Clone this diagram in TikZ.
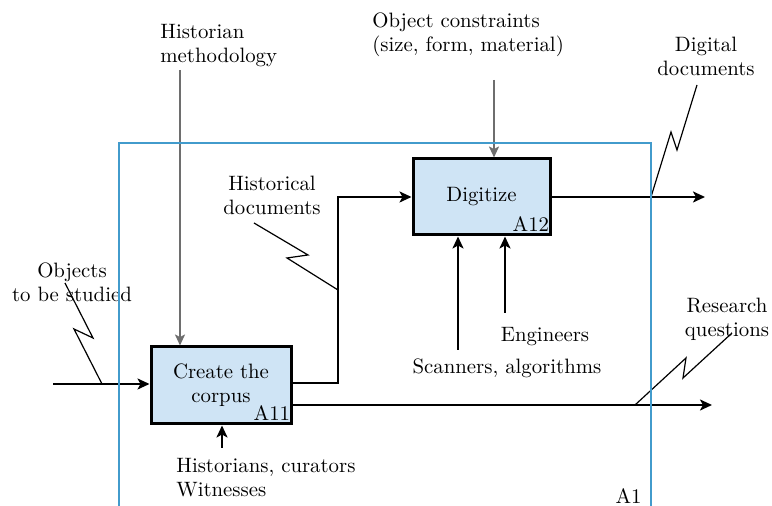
\documentclass[tikz,border=0pt]{standalone}
\usepackage{tikz}
\usetikzlibrary{arrows.meta}

\definecolor{frameblue}{RGB}{66,155,204}
\definecolor{boxblue}{RGB}{207,228,245}
\definecolor{ctlgray}{RGB}{110,110,110}

\begin{document}
\begin{tikzpicture}[x=0.5pt, y=-0.5pt, font=\fontsize{10.4}{12}\selectfont,
	act/.style={draw, line width=1.5pt, fill=boxblue, align=center, inner sep=0pt},
	flow/.style={line width=1.3pt, -{Stealth[length=6pt, width=5.5pt, inset=1.5pt]}},
	ctl/.style={line width=1.1pt, ctlgray, -{Stealth[length=5.5pt, width=5pt, inset=1.3pt]}},
	zig/.style={line width=0.6pt},
	lbl/.style={align=left, inner sep=0pt},
	tag/.style={inner xsep=1pt, inner ysep=2.5pt}]

	\useasboundingbox (0,0) rectangle (772,506);

	\node[act, minimum width=70pt, minimum height=38.5pt] (corpus) at (221,385.5) {Create the\\corpus};
	\node[act, minimum width=68.5pt, minimum height=38pt] (digit) at (481.5,197) {Digitize};
	\node[tag, anchor=south east] (a11) at (corpus.south east) {A11};
	\node[tag, anchor=south east] (a12) at (digit.south east) {A12};

	\node[lbl, anchor=north west] (method) at (160,24) {Historian\\methodology};
	\node[lbl, anchor=north west] (constr) at (372,12) {Object constraints\\(size, form, material)};
	\node[lbl, align=center, anchor=north] (digdoc) at (706,37) {Digital\\documents};
	\node[lbl, align=center, anchor=north] (histdoc) at (272,176) {Historical\\documents};
	\node[lbl, align=center, anchor=north] (objects) at (72,262) {Objects\\to be studied};
	\node[lbl, align=center, anchor=north] (research) at (727,298) {Research\\questions};
	\node[lbl, anchor=north] (engin) at (545,327) {Engineers};
	\node[lbl, anchor=north] (scan) at (507,358) {Scanners, algorithms};
	\node[lbl, anchor=north west] (people) at (176,458) {Historians, curators\\Witnesses};
	\node[lbl, anchor=north east] (a1) at (642,488) {A1};

	\coordinate (in1) at (53,384);
	\coordinate (bend) at (338,383);
	\coordinate (out1) at (712,405);
	\coordinate (out2) at (705,197);
	\coordinate (ctl1) at (180,70);
	\coordinate (ctl2) at (494,80);
	\coordinate (mech1) at (458,350);
	\coordinate (mech2) at (505,313);
	\coordinate (mech3) at (222,448);

	\draw[flow] (in1) -- (in1 -| corpus.west);
	\draw[flow] (corpus.east |- bend) -- (bend) |- (digit.west);
	\draw[flow] (corpus.east |- out1) -- (out1);
	\draw[flow] (digit.east) -- (out2);
	\draw[ctl] (ctl1) -- (ctl1 |- corpus.north);
	\draw[ctl] (ctl2) -- (ctl2 |- digit.north);
	\draw[flow] (mech1) -- (mech1 |- digit.south);
	\draw[flow] (mech2) -- (mech2 |- digit.south);
	\draw[flow] (mech3) -- (mech3 |- corpus.south);

	\draw[zig] (65,283) -- (93,338) -- (74,329) -- (102,384);
	\draw[zig] (254,223) -- (308,255) -- (287,258) -- (bend |- 0,290);
	\draw[zig] (697,85) -- (677,150) -- (671,132) -- (651,197);
	\draw[zig] (732,333) -- (683,378) -- (686,358) -- (635,405);

	\draw[frameblue, line width=1.2pt] (119,510) -- (119,143) -- (651,143) -- (651,510);
\end{tikzpicture}
\end{document}
